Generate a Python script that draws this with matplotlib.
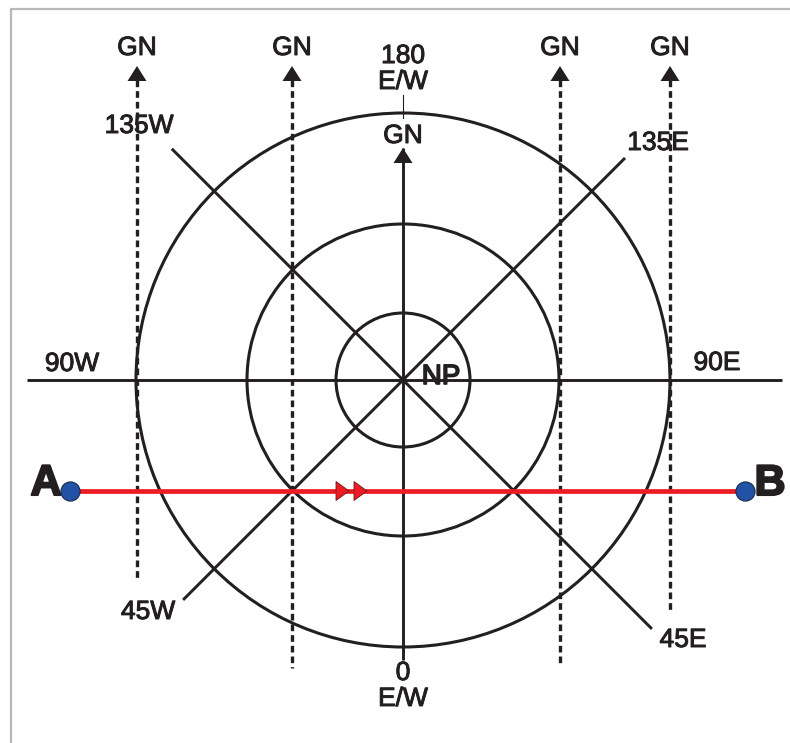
import numpy as np
import matplotlib
matplotlib.use("Agg")
import matplotlib.pyplot as plt
import matplotlib.patheffects as pe
from matplotlib.patches import Circle, Polygon

# ---------------------------------------------------------
# DIAGRAM DATA (drawing units = pixels of the 790x743 canvas)
# ---------------------------------------------------------

CENTER = (403, 380)                  # north pole
circle_radii = [67, 156, 267]        # parallels of latitude

# meridians: longitude of each spoke end (E positive) and its length
meridian_lon = [0, 45, 90, 135, 180, -135, -90, -45]
meridian_len = [280, 352, 379, 314, 232, 327, 376, 311]

# meridian labels
meridian_text = ["0\nE/W", "45E", "90E", "135E", "180\nE/W", "135W", "90W", "45W"]
meridian_text_xy = [(403, 686), (683, 640), (717, 363), (658, 143),
                    (403, 69), (139, 126), (72, 364), (148, 612)]

# grid north reference lines (dashed)
gn_x = [137, 292, 560, 670]
gn_bottom = [578, 668, 664, 610]
gn_tip = 66
gn_label_y = 48

# central GN arrow label
centre_gn_xy = (403, 136)

# rhumb line A -> B
route_y = 491
route_x = [70, 745]
route_names = ["A", "B"]
route_name_x = [46, 770]
route_arrow_tips = [349, 367]

INK = "#231f20"
RED = "#ed1c24"
BLUE = "#2152a6"
FONT = "Liberation Sans"
HEAVY = [pe.withStroke(linewidth=0.7, foreground=INK)]

# ---------------------------------------------------------
# HELPERS
# ---------------------------------------------------------

def spoke_end(lon, r):
    a = np.radians(lon)
    return CENTER[0] + r * np.sin(a), CENTER[1] + r * np.cos(a)


def up_arrow(ax, x, tip, w=19, h=15, color=INK):
    ax.add_patch(Polygon([(x, tip), (x - w / 2, tip + h), (x + w / 2, tip + h)],
                         closed=True, facecolor=color, edgecolor="none", zorder=4))


def right_arrow(ax, tip, y, w=13, h=19):
    ax.add_patch(Polygon([(tip, y), (tip - w, y - h / 2), (tip - w, y + h / 2)],
                         closed=True, facecolor=RED, edgecolor="#6b1a1a",
                         linewidth=0.6, zorder=6))

# ---------------------------------------------------------
# PLOT
# ---------------------------------------------------------

fig = plt.figure(figsize=(7.9, 7.43), dpi=100)
ax = fig.add_axes([0, 0, 1, 1])
ax.set_xlim(0, 790)
ax.set_ylim(743, 0)
ax.set_aspect("equal")
ax.axis("off")

# frame (left and top edges only)
ax.plot([11, 11, 790], [743, 9, 9], color="#b8b8b8", lw=1.6, zorder=1)

# parallels
for r in circle_radii:
    ax.add_patch(Circle(CENTER, r, fill=False, edgecolor=INK, lw=2.2, zorder=3))

# meridian spokes
for lon, length in zip(meridian_lon, meridian_len):
    x1, y1 = spoke_end(lon, length)
    ax.plot([CENTER[0], x1], [CENTER[1], y1], color=INK, lw=2.1,
            solid_capstyle="butt", zorder=3)
up_arrow(ax, CENTER[0], spoke_end(180, meridian_len[4])[1])
ax.plot([403, 403], [95, 118], color=INK, lw=0.8, zorder=3)

for txt, (tx, ty) in zip(meridian_text, meridian_text_xy):
    ax.text(tx, ty, txt, ha="center", va="center", fontsize=19, family=FONT,
            color=INK, linespacing=1.1, zorder=5, path_effects=HEAVY)
ax.text(centre_gn_xy[0], centre_gn_xy[1], "GN", ha="center", va="center",
        fontsize=19, family=FONT, color=INK, zorder=5, path_effects=HEAVY)
ax.text(441, 377, "NP", ha="center", va="center", fontsize=20, family=FONT,
        color=INK, zorder=5,
        path_effects=[pe.withStroke(linewidth=1.2, foreground=INK)])

# grid north lines
for x, yb in zip(gn_x, gn_bottom):
    ax.plot([x, x], [gn_tip + 14, yb], color=INK, lw=2.4,
            linestyle=(0, (2.0, 1.2)), zorder=2)
    up_arrow(ax, x, gn_tip)
    ax.text(x, gn_label_y, "GN", ha="center", va="center", fontsize=19,
            family=FONT, color=INK, zorder=5, path_effects=HEAVY)

# route A -> B
ax.plot(route_x, [route_y, route_y], color=RED, lw=3.4, zorder=5)
for tip in route_arrow_tips:
    right_arrow(ax, tip, route_y)
ax.scatter(route_x, [route_y, route_y], s=190, color=BLUE, edgecolor="#1a2a4a",
           linewidth=0.8, zorder=7)
for name, nx in zip(route_names, route_name_x):
    ax.text(nx, route_y - 7, name, ha="center", va="center", fontsize=31,
            family=FONT, fontweight="bold", color=INK, zorder=7,
            path_effects=[pe.withStroke(linewidth=1.5, foreground=INK)])

fig.savefig("out.png", dpi=100, facecolor="white")
